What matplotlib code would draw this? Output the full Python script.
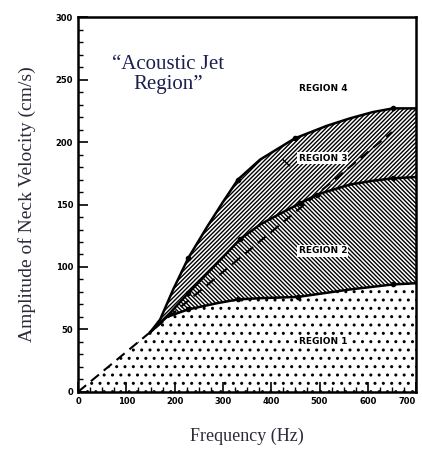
import matplotlib.pyplot as plt
from matplotlib.ticker import MultipleLocator

# boundary curves (Hz, cm/s)
top_freq = [150, 170, 197, 228, 267, 300, 331, 377, 449, 515, 563, 610, 652, 700]
top_amp = [48, 58, 82, 107, 132, 152, 170, 186, 203, 213, 219, 224, 227, 227]

mid_freq = [150, 190, 228, 288, 335, 377, 420, 460, 495, 563, 610, 652, 700]
mid_amp = [48, 63, 79, 103, 122, 134, 143, 151, 158, 166, 169, 171, 172]

low_freq = [150, 184, 228, 288, 331, 377, 455, 563, 652, 700]
low_amp = [48, 60, 66, 71, 74, 75, 76, 82, 86, 87]

# measured points (dots)
top_pts_f = [228, 331, 449, 652]
top_pts_a = [107, 170, 203, 227]
mid_pts_f = [228, 335, 460, 495, 652]
mid_pts_a = [79, 122, 151, 158, 171]
low_pts_f = [228, 331, 455, 652]
low_pts_a = [66, 74, 76, 86]

# dashed straight line from origin
dash_freq = [0, 150, 650]
dash_amp = [0, 48, 208]

x_ticks = [0, 100, 200, 300, 400, 500, 600, 700]

region_labels = ["REGION 4", "REGION 3", "REGION 2", "REGION 1"]
label_freq = [507, 507, 507, 507]
label_amp = [243, 187, 113, 40]

plt.rcParams['hatch.linewidth'] = 1.0

fig = plt.figure(figsize=(4.22, 4.53), dpi=100)
ax = fig.add_axes([0.185, 0.135, 0.801, 0.827])

# region 1: below dashed line up to 150 Hz then below the low curve
r1_f = dash_freq[:2] + low_freq[1:]
r1_a = dash_amp[:2] + low_amp[1:]
ax.fill_between(r1_f, 0, r1_a, facecolor="white", edgecolor="black",
                hatch="..", linewidth=0)

# region 2: between low and mid curves
ax.fill(mid_freq + low_freq[::-1], mid_amp + low_amp[::-1],
        facecolor="white", edgecolor="black", hatch="\\" * 8, linewidth=0)

# region 3: between mid and top curves
ax.fill(top_freq + mid_freq[::-1], top_amp + mid_amp[::-1],
        facecolor="white", edgecolor="black", hatch="/" * 8, linewidth=0)

ax.plot(top_freq, top_amp, color="black", lw=1.8)
ax.plot(mid_freq, mid_amp, color="black", lw=1.8)
ax.plot(low_freq, low_amp, color="black", lw=1.8)
ax.plot(dash_freq, dash_amp, color="black", lw=1.5, ls=(0, (5, 3)))

for f, a in [(top_pts_f, top_pts_a), (mid_pts_f, mid_pts_a), (low_pts_f, low_pts_a)]:
    ax.plot(f, a, "o", color="black", ms=3)

# small leader mark beside REGION 3
ax.plot([424, 438], [186, 181], color="black", lw=1.0)

for txt, f, a in zip(region_labels, label_freq, label_amp):
    box = None if txt == "REGION 4" else dict(facecolor="white", edgecolor="none", pad=1)
    ax.text(f, a, txt, ha="center", va="center", fontsize=6.5,
            fontweight="bold", family="DejaVu Sans", bbox=box)

ax.text(186, 254, "\u201cAcoustic Jet\nRegion\u201d", ha="center", va="center",
        fontsize=15, family="Liberation Serif", color="#1c2050",
        linespacing=1.1)

ax.set_xlim(0, 700)
ax.set_ylim(0, 300)
ax.set_xticks(x_ticks)
ax.xaxis.set_minor_locator(MultipleLocator(25))
ax.yaxis.set_major_locator(MultipleLocator(50))
ax.yaxis.set_minor_locator(MultipleLocator(10))
ax.tick_params(which="major", direction="in", length=7, width=1.2, labelsize=6)
ax.tick_params(which="minor", direction="in", length=3.5, width=1.0)
for lab in ax.get_xticklabels() + ax.get_yticklabels():
    lab.set_fontweight("bold")
ax.get_xticklabels()[-1].set_horizontalalignment("right")
for s in ax.spines.values():
    s.set_linewidth(1.8)

ax.set_xlabel("Frequency (Hz)", family="Liberation Serif", fontsize=13,
              color="#2a2a3a", labelpad=16)
ax.set_ylabel("Amplitude of Neck Velocity (cm/s)", family="Liberation Serif",
              fontsize=14, color="#2a2a3a", labelpad=14)

fig.savefig("out.png", dpi=100)
